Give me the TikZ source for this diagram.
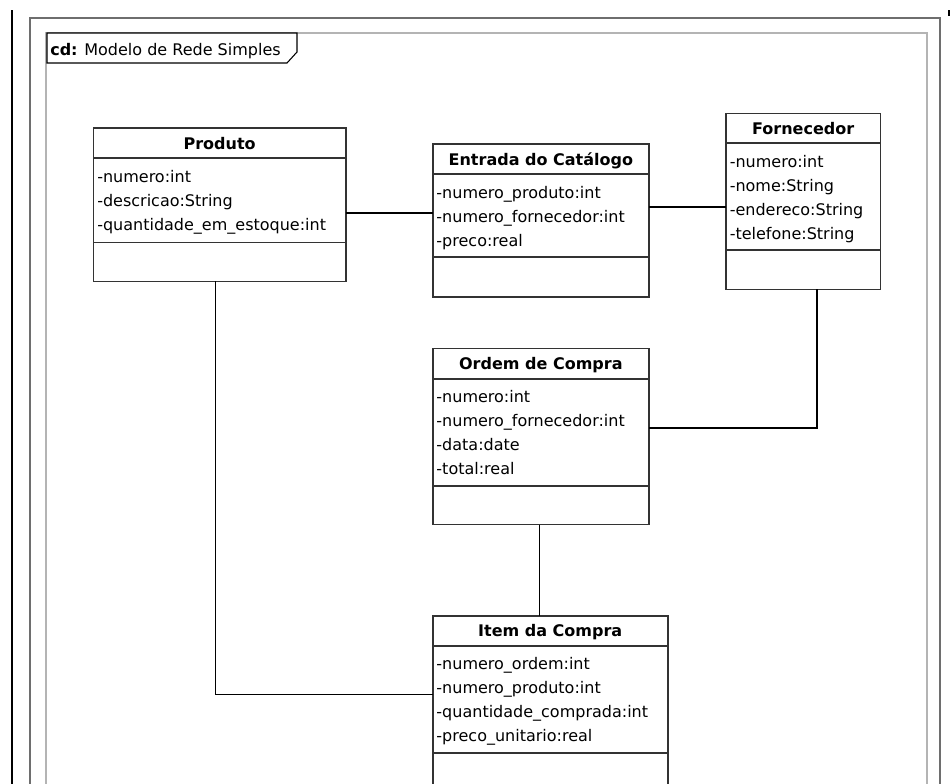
\documentclass[tikz,border=0pt]{standalone}
\usepackage{fontspec}
\setmainfont{DejaVu Sans}
\usetikzlibrary{calc,fit}
\definecolor{boxline}{HTML}{333333}
\definecolor{outerframe}{HTML}{6E6E6E}
\definecolor{innerframe}{HTML}{B4B4B4}
% place a class box spanning two corners (pixel units)
\newcommand\umlclass[5]{%
  \coordinate (#1-nw) at (#2,#3);
  \coordinate (#1-se) at (#4,#5);
  \node[classbox, fit={(#1-nw) (#1-se)}] (#1) {};}
% header and attribute separators of a class box
\newcommand\classrules[3]{%
  \draw[classrule] ($(#1.north west)+(0,#2)$) -- ($(#1.north east)+(0,#2)$);
  \draw[classrule] ($(#1.north west)+(0,#3)$) -- ($(#1.north east)+(0,#3)$);}
\begin{document}
\begin{tikzpicture}[x=0.75pt,y=-0.75pt,
  classbox/.style={draw=boxline, line width=1.2pt, fill=white, inner sep=0pt, outer sep=0pt},
  classrule/.style={draw=boxline, line width=1.2pt},
  classname/.style={font=\fontsize{12}{14}\selectfont\bfseries, anchor=base, inner sep=0pt},
  attr/.style={font=\fontsize{12}{14}\selectfont, anchor=base west, inner sep=0pt},
  assoc/.style={draw=black, line width=1.1pt},
  frametab/.style={draw=black, line width=0.8pt, fill=white}]
\useasboundingbox (0,0) rectangle (952,783);
\clip (0,0) rectangle (952,783);

% page edges and diagram frame
\draw[black, line width=1.1pt] (12,10) -- (12,800);
\draw[black, line width=1.5pt] (949,10) -- (949,16);
\draw[outerframe, line width=1.4pt] (30,800) -- (30,18) -- (940,18) -- (940,800);
\draw[innerframe, line width=1.4pt] (46,800) -- (46,33) -- (927,33) -- (927,800);
\draw[frametab] (47,33) -- (297,33) -- (297,52) -- (287,63) -- (47,63) -- cycle;
\node[attr] (title) at (50,55) {\textbf{cd:} Modelo de Rede Simples};

% classes
\umlclass{prod}{93.5}{128}{345.7}{281.3}
\classrules{prod}{30}{114.3}
\node[classname] (prod-h) at ($(prod.north)+(0,21)$) {Produto};
\node[attr] (prod-a1) at ($(prod.north west)+(3.5,54)$) {-numero:int};
\node[attr] (prod-a2) at ($(prod.north west)+(3.5,78)$) {-descricao:String};
\node[attr] (prod-a3) at ($(prod.north west)+(3.5,102)$) {-quantidade\_em\_estoque:int};

\umlclass{ent}{432.7}{144}{649}{296.7}
\classrules{ent}{30}{113}
\node[classname] (ent-h) at ($(ent.north)+(0,21)$) {Entrada do Catálogo};
\node[attr] (ent-a1) at ($(ent.north west)+(3.5,54)$) {-numero\_produto:int};
\node[attr] (ent-a2) at ($(ent.north west)+(3.5,78)$) {-numero\_fornecedor:int};
\node[attr] (ent-a3) at ($(ent.north west)+(3.5,102)$) {-preco:real};

\umlclass{forn}{726}{113.3}{880.3}{289.3}
\classrules{forn}{29.4}{136.7}
\node[classname] (forn-h) at ($(forn.north)+(0,21)$) {Fornecedor};
\node[attr] (forn-a1) at ($(forn.north west)+(3.5,54)$) {-numero:int};
\node[attr] (forn-a2) at ($(forn.north west)+(3.5,78)$) {-nome:String};
\node[attr] (forn-a3) at ($(forn.north west)+(3.5,102)$) {-endereco:String};
\node[attr] (forn-a4) at ($(forn.north west)+(3.5,126)$) {-telefone:String};

\umlclass{ord}{432.7}{348.3}{649}{524.5}
\classrules{ord}{30.7}{137.4}
\node[classname] (ord-h) at ($(ord.north)+(0,21)$) {Ordem de Compra};
\node[attr] (ord-a1) at ($(ord.north west)+(3.5,54)$) {-numero:int};
\node[attr] (ord-a2) at ($(ord.north west)+(3.5,78)$) {-numero\_fornecedor:int};
\node[attr] (ord-a3) at ($(ord.north west)+(3.5,102)$) {-data:date};
\node[attr] (ord-a4) at ($(ord.north west)+(3.5,126)$) {-total:real};

\umlclass{item}{432.7}{615.7}{667.7}{800}
\classrules{item}{30}{137}
\node[classname] (item-h) at ($(item.north)+(0,21)$) {Item da Compra};
\node[attr] (item-a1) at ($(item.north west)+(3.5,54)$) {-numero\_ordem:int};
\node[attr] (item-a2) at ($(item.north west)+(3.5,78)$) {-numero\_produto:int};
\node[attr] (item-a3) at ($(item.north west)+(3.5,102)$) {-quantidade\_comprada:int};
\node[attr] (item-a4) at ($(item.north west)+(3.5,126)$) {-preco\_unitario:real};

% associations
\draw[assoc] ($(prod.north east)+(0,85)$) -- (ent.west |- {$(prod.north east)+(0,85)$});
\draw[assoc] ($(ent.north east)+(0,63)$) -- (forn.west |- {$(ent.north east)+(0,63)$});
\draw[assoc] ($(forn.south west)+(91,0)$) |- ($(ord.north east)+(0,79.5)$);
\draw[assoc] ($(ord.south west)+(106.6,0)$) -- (item.north -| {$(ord.south west)+(106.6,0)$});
\draw[assoc] ($(prod.south west)+(122,0)$) |- ($(item.north west)+(0,78.6)$);
\end{tikzpicture}
\end{document}
